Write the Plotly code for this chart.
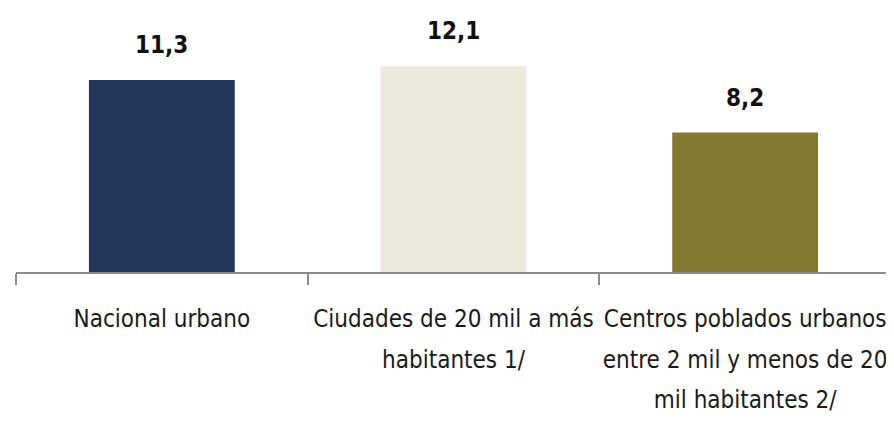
import plotly.graph_objects as go

categories = [
    "Nacional urbano",
    "Ciudades de 20 mil a más<br>habitantes 1/",
    "Centros poblados urbanos<br>entre 2 mil y menos de 20<br>mil habitantes 2/",
]
values = [11.3, 12.1, 8.2]
value_labels = ["11,3", "12,1", "8,2"]
colors = ["#24355A", "#ECE8DC", "#837A31"]

font_family = "DejaVu Sans Condensed, Liberation Sans Narrow, sans-serif"


def small_lines(label):
    # smaller glyphs, but keep the wider line spacing of the outer tick font
    return "<br>".join(f'<span style="font-size:24px">{part}</span>' for part in label.split("<br>"))


fig = go.Figure()
fig.add_trace(go.Bar(
    x=categories,
    y=values,
    marker=dict(color=colors, line=dict(width=0)),
    hoverinfo="skip",
))

for cat, val, lab in zip(categories, values, value_labels):
    fig.add_annotation(
        x=cat, y=val, text=f"<b>{lab}</b>",
        showarrow=False, yanchor="middle", yshift=35,
        font=dict(family=font_family, size=24, color="#111111"),
    )

# page body adds an 8px offset, margins compensate for it
fig.update_layout(
    width=894, height=423,
    margin=dict(l=8, r=11, t=0, b=159),
    paper_bgcolor="white", plot_bgcolor="white",
    bargap=0.5,
    showlegend=False,
    font=dict(family=font_family, size=24, color="#1a1a1a"),
)
fig.update_xaxes(
    automargin=False,
    tickvals=categories,
    ticktext=[small_lines(c) for c in categories],
    showline=True, linecolor="#8C8C8C", linewidth=2,
    ticks="outside", tickson="boundaries", ticklen=11, tickwidth=2, tickcolor="#8C8C8C",
    showgrid=False, tickfont=dict(size=31), tickangle=0, ticklabelstandoff=16,
)
fig.update_yaxes(range=[0, 264 / 17], visible=False, showgrid=False, automargin=False)

fig.write_html("out.html")
